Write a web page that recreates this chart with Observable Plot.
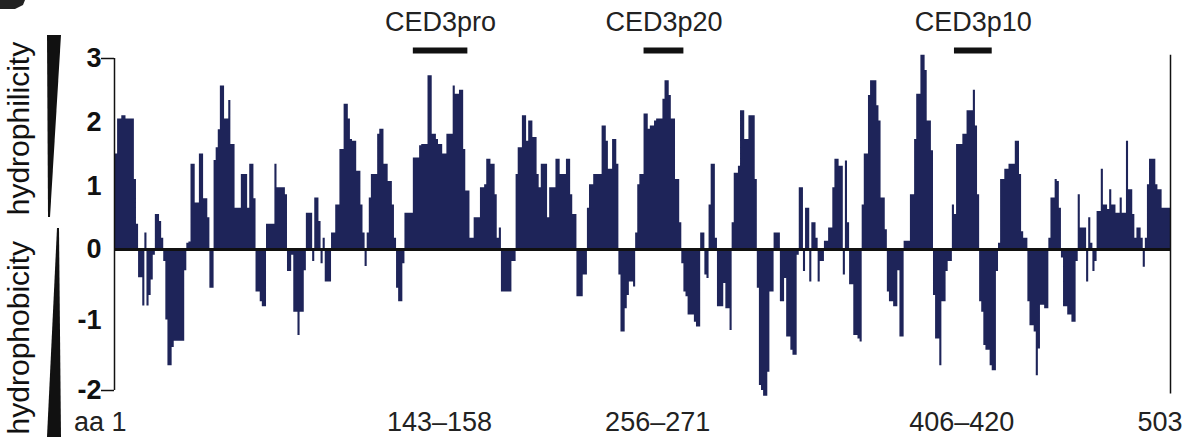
<!DOCTYPE html>
<html>
<head>
<meta charset="utf-8">
<script src="https://cdn.jsdelivr.net/npm/d3@7"></script>
<script src="https://cdn.jsdelivr.net/npm/@observablehq/plot@0.6"></script>
<style>
  html, body { margin: 0; padding: 0; background: #ffffff; }
  #chart { width: 1187px; height: 437px; overflow: hidden; }
</style>
</head>
<body>
<div id="chart"></div>
<script>
// Hydrophilicity profile of CED-3, one value per residue (aa 1..503)
const hydrophilicity = [
  1.5, 2.05, 2.05, 2.1, 2.1, 2.05, 2.05, 2.05, 2.05, 1.1,
  0.4, -0.4, -0.4, -0.8, 0.26, -0.8, -0.65, -0.43, -0.08, 0.55,
  0.55, 0.44, 0.18, -0.17, -1.0, -1.65, -1.65, -1.39, -1.3, -1.3,
  -1.3, -1.3, -1.3, -0.3, 0.1, 0.12, 1.34, 1.34, 0.73, 0.73,
  1.5, 1.5, 0.8, 0.8, 0.5, -0.55, -0.55, 1.4, 1.6, 1.88,
  2.57, 2.57, 2.05, 2.05, 2.34, 1.65, 1.65, 0.65, 0.65, 0.65,
  1.18, 1.18, 1.18, 0.65, 1.34, 1.34, 0.8, -0.6, -0.6, -0.74,
  -0.81, -0.81, 0.4, 0.4, 0.4, 0.4, 1.34, 0.97, 0.97, 0.97,
  0.97, 0.86, -0.31, -0.31, -0.08, -0.89, -0.89, -1.22, -0.89, -0.89,
  -0.3, 0.57, 0.57, 0.57, -0.17, 0.81, 0.81, 0.44, -0.2, 0.18,
  -0.46, -0.46, -0.46, 0.26, 0.26, 0.7, 0.7, 1.57, 1.57, 2.28,
  2.28, 2.05, 1.73, 1.7, 1.7, 1.23, 1.23, 0.7, 0.26, -0.24,
  0.26, 0.81, 1.18, 1.18, 1.18, 1.81, 1.89, 1.89, 1.34, 1.34,
  1.07, 1.07, 0.7, 0.18, -0.55, -0.74, -0.74, -0.2, 0.57, 0.57,
  0.57, 0.57, 1.44, 1.44, 1.44, 1.63, 1.65, 1.65, 1.65, 2.73,
  2.73, 1.81, 1.81, 1.73, 1.65, 1.65, 1.5, 1.5, 1.81, 1.81,
  1.81, 2.57, 2.44, 2.44, 2.5, 2.5, 1.57, 0.92, 0.92, 0.18,
  0.18, 0.5, 0.5, 0.5, 0.97, 0.97, 1.02, 1.42, 1.42, 1.34,
  1.34, 0.86, 0.18, 0.34, -0.6, -0.6, -0.6, -0.6, -0.6, -0.17,
  -0.17, 1.18, 1.6, 1.6, 2.1, 2.1, 1.7, 2.02, 2.02, 1.76,
  1.76, 1.18, 0.97, 1.34, 1.34, 1.34, 0.5, 0.97, 0.97, 0.97,
  1.42, 1.42, 1.18, 1.18, 1.18, 1.42, 1.42, 0.86, 0.55, 0.55,
  -0.67, -0.67, -0.67, -0.36, -0.36, 0.65, 1.02, 1.02, 1.18, 1.18,
  1.18, 1.18, 1.94, 1.94, 1.7, 1.26, 1.26, 1.73, 1.73, 1.34,
  -0.36, -1.17, -1.17, -0.84, -0.65, -0.46, -0.46, -0.53, 0.26, 1.02,
  1.18, 1.18, 2.13, 2.13, 1.89, 1.94, 1.94, 2.02, 2.05, 2.05,
  2.05, 2.36, 2.65, 2.65, 2.42, 2.05, 2.05, 1.1, 1.1, 0.42,
  -0.2, -0.6, -0.67, -0.93, -0.93, -0.93, -1.03, -1.1, -1.1, 0.26,
  0.26, -0.36, -0.41, 0.7, 1.34, 1.34, 0.18, -0.81, -0.81, -0.81,
  -0.48, -0.84, -0.84, -1.15, 0.42, 1.2, 1.2, 1.31, 2.18, 2.18,
  1.73, 1.73, 2.1, 2.1, 2.1, 1.1, -0.55, -1.93, -2.0, -2.08,
  -2.08, -1.74, -0.6, -0.6, 0.26, 0.26, 0.26, -0.74, -0.74, -0.41,
  -1.24, -1.24, -1.43, -1.5, -1.5, -0.08, 0.97, 0.97, -0.31, 0.65,
  0.65, -0.46, 0.42, 0.42, 0.18, -0.46, -0.17, -0.17, 0.13, 0.13,
  0.34, 0.34, 0.97, 1.42, 1.42, 1.31, 1.31, -0.36, 1.39, 0.42,
  -0.5, -0.5, -1.22, -1.22, -1.27, -1.31, 0.7, 1.5, 1.5, 2.42,
  2.65, 2.65, 2.65, 2.26, 2.02, 0.81, 0.81, 0.31, -0.6, -0.74,
  -0.74, -0.81, -0.81, -0.3, -1.24, -1.24, 0.13, 0.13, 0.13, 0.86,
  0.86, 1.73, 2.44, 2.44, 3.05, 3.05, 2.81, 2.02, 2.02, 1.55,
  -0.65, -1.27, -1.27, -1.65, -0.74, -0.74, -0.31, -0.17, -0.17, 0.7,
  0.55, 1.65, 1.65, 1.65, 1.81, 1.81, 2.18, 2.18, 2.18, 2.5,
  1.94, 0.86, -0.74, -0.89, -1.36, -1.43, -1.43, -1.65, -1.72, -1.72,
  -0.31, 0.1, 1.1, 1.1, 1.26, 1.26, 1.34, 1.34, 1.34, 1.7,
  1.7, 1.18, 0.28, 0.18, 0.18, -0.74, -1.08, -1.08, -1.17, -1.79,
  -1.41, -0.79, -0.79, -0.84, -0.84, 0.18, 0.81, 0.81, 1.1, 1.07,
  0.65, -0.12, -0.81, -0.81, -0.93, -0.93, -1.03, -1.03, -0.17, 0.86,
  0.34, 0.34, 0.34, -0.46, 0.5, 0.1, -0.31, -0.17, 0.6, 0.6,
  1.26, 0.7, 0.7, 0.63, 0.94, 0.7, 0.7, 0.57, 0.57, 0.81,
  0.57, 0.57, 1.7, 0.94, 0.94, 0.55, 0.18, 0.34, 0.34, 0.18,
  -0.25, 0.18, 1.02, 1.42, 1.42, 1.42, 1.02, 0.94, 0.94, 0.65,
  0.65, 0.65, 0.65
];

// y-axis tick labels
const yTicks = [3, 2, 1, 0, -1, -2];
const yEndTicks = [3, -2];

// peptides marked above the profile (residue ranges as drawn)
const peptideNames = ["CED3pro", "CED3p20", "CED3p10"];
const peptideStart = [143, 253, 401];
const peptideEnd = [168, 271, 418];

// residue labels under the profile
const residueLabels = ["143–158", "256–271", "406–420"];
const residueLabelPos = [155, 259, 404];
const firstLabel = "aa 1";
const lastLabel = "503";
const nResidues = hydrophilicity.length;

const barColor = "#1e2459";
const ink = "#111111";
const font = "'Liberation Sans', Arial, Helvetica, sans-serif";

// the figure's axis is drawn a little stretched below zero
const belowZeroStretch = 70 / 63.3;
const stretch = v => (v < 0 ? v * belowZeroStretch : v);

const steps = hydrophilicity.map((v, i) => ({x: i + 0.5, h: v}));
steps.push({x: nResidues + 0.5, h: hydrophilicity[nResidues - 1]});

const peptides = peptideNames.map((name, i) => ({
  name, x1: peptideStart[i] - 0.5, x2: peptideEnd[i] + 0.5, mid: (peptideStart[i] + peptideEnd[i]) / 2
}));
const residueTexts = residueLabels.map((t, i) => ({t, x: residueLabelPos[i]}));

const plot = Plot.plot({
  width: 1187,
  height: 437,
  marginLeft: 115,
  marginRight: 17,
  marginTop: 58,
  marginBottom: 47,
  style: {fontFamily: font, background: "#ffffff", overflow: "visible"},
  x: {domain: [0.5, nResidues + 0.5], axis: null},
  y: {domain: [stretch(-2), 3], axis: null},
  marks: [
    Plot.areaY(steps, {x: "x", y: d => stretch(d.h), curve: "step-after", fill: barColor}),
    Plot.ruleY([0], {stroke: ink, strokeWidth: 3}),
    Plot.ruleX([0.5], {y1: stretch(-2), y2: 3, stroke: ink, strokeWidth: 1.5, dx: -1}),
    Plot.ruleX([nResidues + 0.5], {y1: stretch(-2.05), y2: 3.05, stroke: ink, strokeWidth: 1.5}),
    Plot.axisY(yEndTicks, {y: stretch, tickSize: 13, tickFormat: () => "", stroke: ink, strokeWidth: 1.5, dx: -1}),
    Plot.axisY(yTicks, {y: stretch, tickSize: 0, tickPadding: 14, text: d => String(d),
      fontSize: 27, fontWeight: "bold", fill: ink}),
    // peptide bars and names
    Plot.ruleY(peptides, {y: () => 3, x1: "x1", x2: "x2", stroke: ink, strokeWidth: 6, dy: -8}),
    Plot.text(peptides, {x: "mid", y: () => 3, text: "name", dy: -36, fontSize: 27, fill: "#222"}),
    // residue labels
    Plot.text(residueTexts, {x: "x", y: () => stretch(-2), text: "t", dy: 32, fontSize: 27, fill: "#222"}),
    Plot.text([firstLabel], {x: () => 1, y: () => stretch(-2), text: d => d, dy: 32, dx: 10, fontSize: 27, fill: "#222", textAnchor: "end"}),
    Plot.text([lastLabel], {x: () => nResidues + 0.5, y: () => stretch(-2), text: d => d, dy: 32, dx: 12, fontSize: 27, fill: "#222", textAnchor: "end"}),
    // side labels
    Plot.text(["hydrophilicity"], {x: () => 0.5, y: () => 1.9, text: d => d, dx: -96, rotate: -90, fontSize: 30, fill: ink}),
    Plot.text(["hydrophobicity"], {x: () => 0.5, y: () => stretch(-1.25), text: d => d, dx: -96, rotate: -90, fontSize: 30, fill: ink})
  ]
});

document.getElementById("chart").appendChild(plot);

// decorative wedges next to the side labels, and the clipped panel letter at the corner
const svg = d3.select(plot);
svg.append("polygon").attr("points", "47,35 61,35 50,217 48,217").attr("fill", ink);
svg.append("polygon").attr("points", "57,228 59,228 61,437 47,437").attr("fill", ink);
svg.append("polygon").attr("points", "0,0 25,0 23,5 15,9 0,9").attr("fill", "#222");
</script>
</body>
</html>
